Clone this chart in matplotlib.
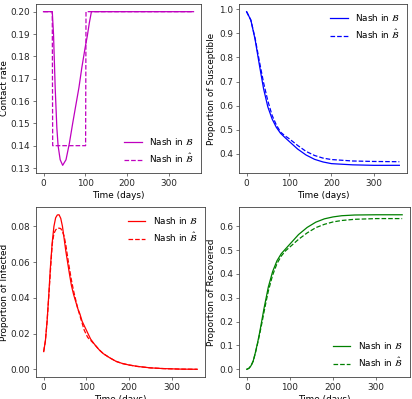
import numpy as np
import matplotlib
matplotlib.use("Agg")
import matplotlib.pyplot as plt

plt.rcParams['font.size'] = 6.4
plt.rcParams['axes.linewidth'] = 0.6
plt.rcParams['axes.labelpad'] = 2.4
plt.rcParams['xtick.major.width'] = 0.5
plt.rcParams['ytick.major.width'] = 0.5
plt.rcParams['xtick.major.size'] = 2.1
plt.rcParams['ytick.major.size'] = 2.1
plt.rcParams['xtick.major.pad'] = 2.1
plt.rcParams['ytick.major.pad'] = 2.1
plt.rcParams['axes.edgecolor'] = '0.25'
plt.rcParams['xtick.color'] = '0.25'
plt.rcParams['ytick.color'] = '0.25'
plt.rcParams['xtick.labelcolor'] = '0.15'
plt.rcParams['ytick.labelcolor'] = '0.15'

# contact rate
days_c = [0, 10, 21, 24, 28, 32, 35, 40, 46, 54, 62, 70, 77, 85, 92, 100, 105, 110, 115, 150, 200, 250, 300, 360]
beta_nash = [0.2, 0.2, 0.2, 0.190, 0.166, 0.148, 0.140, 0.1337, 0.1312, 0.1337, 0.141, 0.150,
             0.1575, 0.166, 0.175, 0.184, 0.189, 0.195, 0.2, 0.2, 0.2, 0.2, 0.2, 0.2]
days_c_hat = [0, 21, 22, 101, 102, 360]
beta_hat = [0.2, 0.2, 0.14, 0.14, 0.2, 0.2]

# susceptible
days_s = [0, 10, 20, 30, 40, 50, 60, 70, 80, 90, 100, 120, 140, 160, 180, 200, 250, 300, 360]
S_nash = [0.99, 0.955, 0.875, 0.77, 0.67, 0.595, 0.545, 0.51, 0.485, 0.468, 0.452, 0.42,
          0.395, 0.377, 0.366, 0.359, 0.354, 0.352, 0.352]
S_hat = [0.99, 0.955, 0.88, 0.785, 0.695, 0.62, 0.56, 0.52, 0.49, 0.475, 0.463, 0.435,
         0.41, 0.393, 0.382, 0.376, 0.37, 0.368, 0.367]

# infected
days_i = [0, 4, 8, 12, 16, 20, 24, 28, 32, 36, 40, 44, 48, 52, 56, 60, 65, 70, 75, 80, 85, 90,
          95, 100, 103, 106, 110, 120, 130, 140, 155, 170, 185, 200, 220, 250, 280, 320, 360]
I_nash = [0.010, 0.016, 0.027, 0.042, 0.058, 0.071, 0.080, 0.0848, 0.0864, 0.0865, 0.0845,
          0.080, 0.073, 0.066, 0.060, 0.054, 0.047, 0.042, 0.038, 0.034, 0.031, 0.027, 0.0245,
          0.022, 0.0205, 0.019, 0.017, 0.0138, 0.011, 0.0088, 0.0065, 0.0045, 0.0033, 0.0025,
          0.0017, 0.0009, 0.0005, 0.0002, 0.0001]
I_hat = [0.010, 0.016, 0.027, 0.041, 0.056, 0.070, 0.076, 0.078, 0.079, 0.079, 0.0788,
         0.077, 0.0745, 0.0695, 0.063, 0.057, 0.050, 0.044, 0.039, 0.034, 0.030, 0.026, 0.022,
         0.0195, 0.018, 0.0172, 0.0163, 0.0138, 0.011, 0.0088, 0.0065, 0.0045, 0.0033, 0.0025,
         0.0017, 0.0009, 0.0005, 0.0002, 0.0001]

# recovered
days_r = [0, 5, 10, 15, 20, 25, 30, 35, 40, 45, 50, 60, 70, 80, 90, 100, 120, 140, 160, 180,
          200, 220, 250, 300, 360]
R_nash = [0.0, 0.004, 0.015, 0.035, 0.07, 0.11, 0.155, 0.205, 0.255, 0.30, 0.345, 0.41, 0.455,
          0.485, 0.505, 0.525, 0.565, 0.595, 0.617, 0.631, 0.639, 0.644, 0.647, 0.648, 0.648]
R_hat = [0.0, 0.004, 0.015, 0.034, 0.068, 0.107, 0.148, 0.193, 0.24, 0.285, 0.328, 0.395,
         0.443, 0.475, 0.497, 0.513, 0.545, 0.572, 0.594, 0.608, 0.618, 0.624, 0.629, 0.632, 0.632]

lab1 = r'Nash in $\mathcal{B}$'
lab2 = r'Nash in $\hat{\mathcal{B}}$'

fig = plt.figure(figsize=(4.12, 3.99), dpi=100)
ax1 = fig.add_axes([0.0874, 0.5664, 0.4005, 0.4236])
ax2 = fig.add_axes([0.580, 0.5664, 0.4078, 0.4236])
ax3 = fig.add_axes([0.0874, 0.0551, 0.410, 0.426])
ax4 = fig.add_axes([0.580, 0.0551, 0.415, 0.426])

lw = 0.9
ax1.plot(days_c, beta_nash, color='m', lw=lw, label=lab1)
ax1.plot(days_c_hat, beta_hat, '--', color='m', lw=lw, label=lab2)
ax1.set_ylabel('Contact rate', labelpad=1.2)
ax1.set_yticks(np.arange(0.13, 0.2001, 0.01))
ax1.legend(loc='lower right', frameon=False)

ax2.plot(days_s, S_nash, color='b', lw=lw, label=lab1)
ax2.plot(days_s, S_hat, '--', color='b', lw=lw, label=lab2)
ax2.set_ylabel('Proportion of Susceptible')
ax2.legend(loc='upper right', frameon=False)

ax3.plot(days_i, I_nash, color='r', lw=lw, label=lab1)
ax3.plot(days_i, I_hat, '--', color='r', lw=lw, label=lab2)
ax3.set_ylabel('Proportion of Infected', labelpad=1.2)
ax3.legend(loc='upper right', frameon=False)

ax4.plot(days_r, R_nash, color='g', lw=lw, label=lab1)
ax4.plot(days_r, R_hat, '--', color='g', lw=lw, label=lab2)
ax4.set_ylabel('Proportion of Recovered')
ax4.legend(loc='lower right', frameon=False)

for ax in [ax1, ax2, ax3, ax4]:
    ax.set_xlabel('Time (days)')
    ax.set_xticks([0, 100, 200, 300])

fig.savefig("out.png", dpi=100)
